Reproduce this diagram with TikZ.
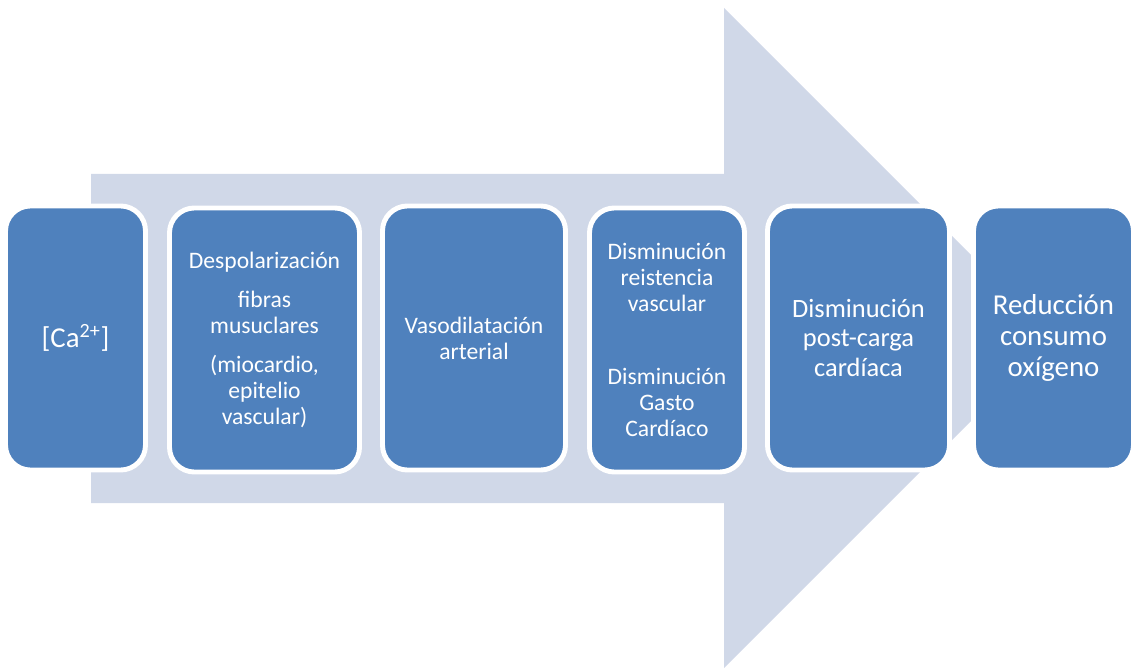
\documentclass[tikz,border=0pt]{standalone}
\usepackage{fontspec}
\setmainfont{Carlito}
\usepackage{xcolor}
\usetikzlibrary{positioning}
\definecolor{boxblue}{HTML}{4F81BD}
\definecolor{arrowgray}{HTML}{D0D8E8}

\begin{document}
\begin{tikzpicture}[x=0.025cm, y=-0.025cm,
                    bigarrow/.style={fill=arrowgray},
                    stepbox/.style={draw=white, line width=3.5pt, fill=boxblue, rounded corners=0.625cm,
                                    text=white, align=center, inner sep=2pt, minimum height=6.6cm},
                    midtext/.style={font=\fontsize{16.8}{18.5}\selectfont},
                    bigtext/.style={font=\fontsize{18.8}{20.8}\selectfont},
                    hugetext/.style={font=\fontsize{20.5}{22.3}\selectfont},
                   ]

\useasboundingbox (0,0) rectangle (1131,668);

% background arrow
\fill[bigarrow] (91,174) -- (724,174) -- (724,8) -- (1054,338) -- (724,668) -- (724,503) -- (91,503) -- cycle;

\node[stepbox, hugetext, minimum width=3.5cm] (ca) at (75.5,338) {[Ca\textsuperscript{2+}]};
\node[stepbox, midtext, minimum width=4.75cm] (despol) at (264.5,340)
    {Despolarización\\[9pt] fibras\\ musuclares\\[9pt] (miocardio,\\ epitelio\\ vascular)};
\node[stepbox, midtext, minimum width=4.575cm] (vasodil) at (474,338) {Vasodilatación\\ arterial};
\node[stepbox, midtext, minimum width=3.875cm] (dismin) at (667,340)
    {Disminución\\ reistencia\\ vascular\\[33pt] Disminución\\ Gasto\\ Cardíaco};
\node[stepbox, bigtext, minimum width=4.55cm] (postcarga) at (858.5,338) {Disminución\\ post-carga\\ cardíaca};
\node[stepbox, hugetext, minimum width=4cm] (consumo) at (1053.5,338) {Reducción\\ consumo\\ oxígeno};

\end{tikzpicture}
\end{document}
